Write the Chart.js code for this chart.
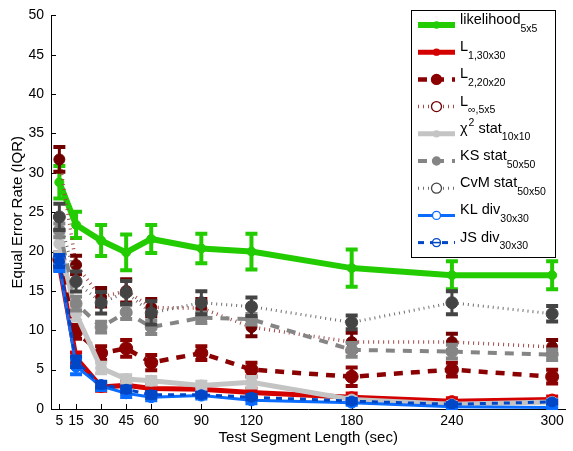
<!DOCTYPE html>
<html>
<head>
<meta charset="utf-8">
<script src="https://cdn.jsdelivr.net/npm/chart.js@4.4.1/dist/chart.umd.min.js"></script>
<style>
  html, body { margin: 0; padding: 0; background: #fff; }
  #wrap { width: 573px; height: 451px; }
</style>
</head>
<body>
<div id="wrap"><canvas id="eerChart" width="573" height="451"></canvas></div>
<script>
// Test segment lengths (sec) and tick labels
const segLen = [5, 15, 30, 45, 60, 90, 120, 180, 240, 300];
const xTickValues = [5, 15, 30, 45, 60, 90, 120, 180, 240, 300];
const yTickStep = 5;

// Median EER per method
const likelihood = [28.8, 23.4, 21.4, 19.9, 21.6, 20.4, 20.0, 17.9, 17.0, 17.0];
const l1Dist     = [18.3, 6.5, 2.8, 3.0, 2.6, 2.5, 2.1, 1.5, 1.0, 1.2];
const l2Dist     = [19.0, 9.8, 7.1, 7.7, 5.9, 7.1, 5.0, 4.1, 5.0, 4.1];
const lInfDist   = [31.7, 18.3, 14.2, 15.0, 12.9, 12.8, 10.4, 8.5, 8.5, 7.9];
const chi2Stat   = [21.0, 12.1, 5.2, 3.8, 3.6, 3.0, 3.4, 1.2, 0.6, 0.9];
const ksStat     = [22.7, 13.4, 10.4, 12.3, 10.4, 11.6, 11.4, 7.5, 7.3, 6.9];
const cvmStat    = [24.4, 16.2, 13.5, 14.8, 12.2, 13.5, 13.0, 11.0, 13.5, 12.1];
const klDiv      = [18.4, 5.4, 2.9, 2.0, 1.5, 1.7, 1.1, 0.8, 0.3, 0.2];
const jsDiv      = [18.8, 6.0, 3.1, 2.5, 1.8, 1.8, 1.5, 1.0, 0.6, 0.9];

// Half-width of the IQR error bars
const likelihoodErr = [2.2, 1.8, 2.1, 2.4, 1.9, 2.0, 2.4, 2.5, 1.9, 1.9];
const l1Err   = [0.8, 0.8, 0.6, 0.6, 0.6, 0.6, 0.6, 0.6, 0.5, 0.5];
const l2Err   = [1.0, 1.0, 1.0, 1.2, 1.1, 1.0, 1.0, 1.3, 1.0, 1.0];
const lInfErr = [1.7, 1.3, 1.3, 1.6, 1.2, 1.3, 1.3, 1.3, 1.2, 1.0];
const chi2Err = [1.2, 1.0, 0.8, 0.6, 0.6, 0.6, 0.8, 0.4, 0.4, 0.4];
const ksErr   = [1.0, 1.0, 0.8, 1.0, 1.0, 0.8, 0.8, 1.0, 1.0, 0.8];
const cvmErr  = [1.8, 1.4, 1.5, 1.6, 1.6, 1.6, 1.3, 1.0, 1.6, 1.1];
const klErr   = [1.0, 1.1, 0.6, 0.6, 0.5, 0.5, 0.5, 0.4, 0.4, 0.3];
const jsErr   = [0.9, 0.8, 0.5, 0.5, 0.5, 0.4, 0.4, 0.4, 0.3, 0.3];

// Legend labels: main text, superscript, subscript
const labelMain = ['likelihood', 'L', 'L', 'L', '\u03c7', 'KS stat', 'CvM stat', 'KL div', 'JS div'];
const labelSup  = ['', '', '', '', '2', '', '', '', ''];
const labelRest = ['', '', '', '', ' stat', '', '', '', ''];
const labelSub  = ['5x5', '1,30x30', '2,20x20', '\u221e,5x5', '10x10', '50x50', '50x50', '30x30', '30x30'];

const FONT = '"Liberation Sans", Arial, Helvetica, sans-serif';

const series = [
    { data: likelihood, err: likelihoodErr, color: '#22cc00', mark: '#22cc00', width: 6, dash: [], r: 4.5, barW: 4, legR: 3, open: false },
    { data: l1Dist, err: l1Err, color: '#d40000', mark: '#d40000', width: 5, dash: [], r: 5.5, barW: 3, legR: 3, open: false },
    { data: l2Dist, err: l2Err, color: '#8b0000', mark: '#8b0000', width: 4.5, dash: [9, 8], r: 6.5, barW: 3, legR: 5, open: false },
    { data: lInfDist, err: lInfErr, color: '#a04a4a', mark: '#700000', width: 3.5, dash: [1, 4], r: 5.5, barW: 3, legR: 5, open: true },
    { data: chi2Stat, err: chi2Err, color: '#c4c4c4', mark: '#c4c4c4', width: 5, dash: [], r: 5.5, barW: 3, legR: 3, open: false },
    { data: ksStat, err: ksErr, color: '#858585', mark: '#858585', width: 4, dash: [9, 8], r: 6, barW: 3, legR: 4, open: false },
    { data: cvmStat, err: cvmErr, color: '#6e6e6e', mark: '#444444', width: 3, dash: [1, 4], r: 6, barW: 3, legR: 5, open: true },
    { data: klDiv, err: klErr, color: '#0a6cff', mark: '#0a6cff', width: 3, dash: [], r: 5.5, barW: 3, legR: 4, open: true },
    { data: jsDiv, err: jsErr, color: '#0047c8', mark: '#0047c8', width: 3, dash: [6, 6], r: 5, barW: 3, legR: 4, open: true }
];

const datasets = series.map((s, i) => ({
    label: labelMain[i] + labelSup[i] + labelRest[i] + labelSub[i],
    data: s.data.map((v, j) => ({ x: segLen[j], y: v })),
    borderColor: s.color,
    borderWidth: s.width,
    borderDash: s.dash,
    pointRadius: s.r,
    pointBackgroundColor: s.mark,
    pointBorderColor: s.mark,
    pointBorderWidth: 1,
    tension: 0,
    fill: false,
    order: series.length - i
}));

// IQR error bars, drawn with each dataset
const errorBars = {
    id: 'errorBars',
    afterDatasetDraw(chart, args) {
        const s = series[args.index];
        const yScale = chart.scales.y;
        const ctx = chart.ctx;
        ctx.save();
        ctx.strokeStyle = s.mark;
        ctx.setLineDash([]);
        args.meta.data.forEach((pt, j) => {
            const top = yScale.getPixelForValue(s.data[j] + s.err[j]);
            const bot = yScale.getPixelForValue(Math.max(0, s.data[j] - s.err[j]));
            ctx.lineWidth = s.barW;
            ctx.beginPath();
            ctx.moveTo(pt.x, top);
            ctx.lineTo(pt.x, bot);
            ctx.stroke();
            ctx.lineWidth = 4;
            ctx.beginPath();
            ctx.moveTo(pt.x - 6, top + 1);
            ctx.lineTo(pt.x + 6, top + 1);
            ctx.moveTo(pt.x - 6, bot - 1);
            ctx.lineTo(pt.x + 6, bot - 1);
            ctx.stroke();
        });
        ctx.restore();
    }
};

// Inward ticks, MATLAB style
const inwardTicks = {
    id: 'inwardTicks',
    beforeDatasetsDraw(chart) {
        const { ctx, chartArea, scales } = chart;
        ctx.save();
        ctx.strokeStyle = '#000';
        ctx.lineWidth = 1;
        ctx.beginPath();
        scales.x.ticks.forEach(t => {
            const px = Math.round(scales.x.getPixelForValue(t.value)) + 0.5;
            ctx.moveTo(px, chartArea.bottom);
            ctx.lineTo(px, chartArea.bottom - 5);
        });
        scales.y.ticks.forEach(t => {
            const py = Math.round(scales.y.getPixelForValue(t.value)) + 0.5;
            ctx.moveTo(chartArea.left, py);
            ctx.lineTo(chartArea.left + 5, py);
        });
        ctx.stroke();
        ctx.restore();
    }
};

// Legend box with sub/superscripts
const matlabLegend = {
    id: 'matlabLegend',
    afterDraw(chart) {
        const ctx = chart.ctx;
        const box = { x: 411.5, y: 10.5, w: 144, h: 247 };
        ctx.save();
        ctx.fillStyle = '#fff';
        ctx.fillRect(box.x, box.y, box.w, box.h);
        ctx.strokeStyle = '#000';
        ctx.lineWidth = 1;
        ctx.strokeRect(box.x, box.y, box.w, box.h);

        series.forEach((s, i) => {
            const ly = 25 + i * 27.2;
            // line sample
            ctx.strokeStyle = s.color;
            ctx.lineWidth = s.width;
            ctx.setLineDash(s.dash);
            ctx.beginPath();
            ctx.moveTo(418, ly);
            ctx.lineTo(455, ly);
            ctx.stroke();
            ctx.setLineDash([]);
            // marker
            ctx.beginPath();
            ctx.arc(436.5, ly, s.legR, 0, Math.PI * 2);
            ctx.fillStyle = s.open ? '#fff' : s.mark;
            ctx.fill();
            ctx.lineWidth = 1.3;
            ctx.strokeStyle = s.mark;
            ctx.stroke();
            if (i === 8 || i === 5) {
                ctx.beginPath();
                ctx.moveTo(436.5 - s.legR, ly);
                ctx.lineTo(436.5 + s.legR, ly);
                ctx.lineWidth = 1.5;
                ctx.stroke();
            }
            // text
            ctx.fillStyle = '#000';
            ctx.textBaseline = 'alphabetic';
            ctx.textAlign = 'left';
            let tx = 460;
            ctx.font = '14.5px ' + FONT;
            ctx.fillText(labelMain[i], tx, ly - 1);
            tx += ctx.measureText(labelMain[i]).width;
            if (labelSup[i]) {
                ctx.font = '10.5px ' + FONT;
                ctx.fillText(labelSup[i], tx + 1, ly - 8);
                tx += ctx.measureText(labelSup[i]).width + 1;
            }
            if (labelRest[i]) {
                ctx.font = '14.5px ' + FONT;
                ctx.fillText(labelRest[i], tx, ly - 1);
                tx += ctx.measureText(labelRest[i]).width;
            }
            ctx.font = '10.5px ' + FONT;
            ctx.fillText(labelSub[i], tx, ly + 6.5);
        });
        ctx.restore();
    }
};

new Chart(document.getElementById('eerChart'), {
    type: 'line',
    data: { datasets },
    options: {
        responsive: false,
        devicePixelRatio: 1,
        animation: false,
        layout: { padding: { top: 9, right: 0, left: 0, bottom: 0 } },
        plugins: {
            legend: { display: false },
            tooltip: { enabled: false }
        },
        scales: {
            x: {
                type: 'linear',
                min: 0,
                max: 308,
                afterBuildTicks: scale => {
                    scale.ticks = xTickValues.map(v => ({ value: v }));
                },
                afterFit: scale => { scale.height = 42; },
                grid: { display: false, drawTicks: false },
                border: { display: true, color: '#000', width: 1 },
                ticks: {
                    color: '#000',
                    padding: 4,
                    maxRotation: 0,
                    autoSkip: false,
                    font: { family: FONT, size: 14 },
                    callback: v => String(v)
                },
                title: {
                    display: true,
                    text: 'Test Segment Length (sec)',
                    color: '#000',
                    font: { family: FONT, size: 15 },
                    padding: { top: 0, bottom: 4 }
                }
            },
            y: {
                min: 0,
                max: 50,
                afterFit: scale => { scale.width = 51; },
                grid: { display: false, drawTicks: false },
                border: { display: true, color: '#000', width: 1 },
                ticks: {
                    stepSize: yTickStep,
                    color: '#000',
                    padding: 7,
                    font: { family: FONT, size: 14 }
                },
                title: {
                    display: true,
                    text: 'Equal Error Rate (IQR)',
                    color: '#000',
                    font: { family: FONT, size: 15 },
                    padding: { top: 9, bottom: 0 }
                }
            }
        }
    },
    plugins: [errorBars, inwardTicks, matlabLegend]
});
</script>
</body>
</html>
